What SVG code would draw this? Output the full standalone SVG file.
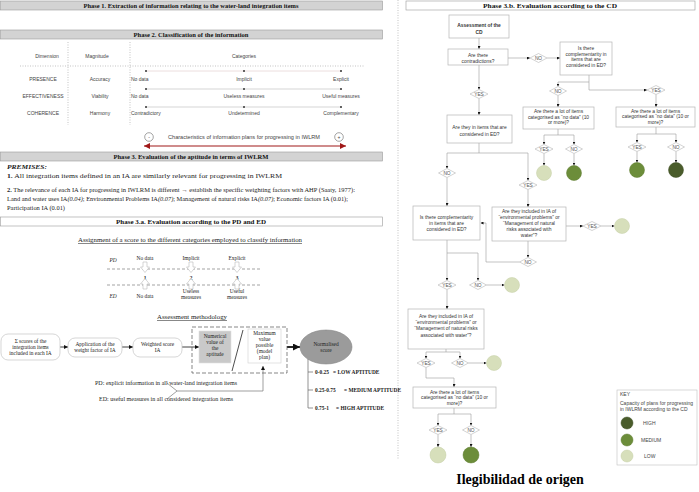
<svg xmlns="http://www.w3.org/2000/svg" width="699" height="492" viewBox="0 0 699 492">
<style>
.bar{fill:#d3d3d3;stroke:#9a9a9a;stroke-width:0.6}
.barw{fill:#fff;stroke:#9a9a9a;stroke-width:0.6}
.bt{font-family:"Liberation Serif",serif;font-weight:bold;font-size:6.5px;text-anchor:middle;fill:#111}
.sr{font-family:"Liberation Serif",serif;font-size:6.2px;fill:#222}
.sm{font-family:"Liberation Serif",serif;font-size:5.4px;fill:#222;text-anchor:middle}
.ss{font-family:"Liberation Sans",sans-serif;font-size:5px;fill:#444}
.ssm{font-family:"Liberation Sans",sans-serif;font-size:5px;fill:#444;text-anchor:middle}
.dot{stroke:#aaa;stroke-width:0.7;stroke-dasharray:1 1.5;fill:none}
.rl{stroke:#d6d6d6;stroke-width:1.2}
.fn{fill:#fff;stroke:#b5b5b5;stroke-width:0.7}
.ft{font-family:"Liberation Sans",sans-serif;font-size:4.9px;fill:#333;text-anchor:middle}
.dm{fill:#fff;stroke:#b5b5b5;stroke-width:0.6}
.dt{font-family:"Liberation Sans",sans-serif;font-size:4.8px;fill:#555;text-anchor:middle}
.c{stroke:#9a9a9a;stroke-width:0.6;fill:none}
.lo{fill:#d7dfbb;stroke:#c5cfa5;stroke-width:0.5}
.me{fill:#6c8d3a;stroke:#5e7d31;stroke-width:0.5}
.hi{fill:#4a5c2b;stroke:#3f4f24;stroke-width:0.5}
.bx{fill:#fff;stroke:#c4c4c4;stroke-width:0.7}
.blk{fill:#fff;stroke:#bbb;stroke-width:0.6}
.bb{font-family:"Liberation Serif",serif;font-weight:bold;font-size:5.4px;fill:#222}
</style>
<defs>
<marker id="ah" viewBox="0 0 6 6" markerUnits="userSpaceOnUse" markerWidth="3" markerHeight="3" refX="6" refY="3" orient="auto"><path d="M0,0L6,3L0,6z" fill="#111"/></marker>
<marker id="ahL" viewBox="0 0 6 6" markerUnits="userSpaceOnUse" markerWidth="4" markerHeight="4" refX="6" refY="3" orient="auto"><path d="M0,0L6,3L0,6z" fill="#111"/></marker>
<marker id="ahB" viewBox="0 0 6 6" markerUnits="userSpaceOnUse" markerWidth="7" markerHeight="7" refX="6" refY="3" orient="auto"><path d="M0,0L6,3L0,6z" fill="#111"/></marker>
<marker id="ahR" viewBox="0 0 6 6" markerUnits="userSpaceOnUse" markerWidth="7" markerHeight="6" refX="6" refY="3" orient="auto-start-reverse"><path d="M0,0L6,3L0,6z" fill="#a01818"/></marker>
</defs>
<rect width="699" height="492" fill="#fff"/>

<line x1="398" y1="0" x2="398" y2="460" class="dot"/>

<g id="phase1"><rect x="0.5" y="1" width="382" height="9" class="bar"/><text x="191" y="8" class="bt" textLength="215" lengthAdjust="spacingAndGlyphs">Phase 1. Extraction of information relating to the water-land integration items</text></g>
<g id="phase2"><rect x="0.5" y="30" width="382" height="9" class="bar"/><text x="191" y="37" class="bt" textLength="115" lengthAdjust="spacingAndGlyphs">Phase 2. Classification of the information</text></g>

<g id="table">
<line x1="68" y1="42" x2="68" y2="125" class="dot"/>
<line x1="130" y1="42" x2="130" y2="125" class="dot"/>
<line x1="20" y1="66" x2="365" y2="66" class="dot"/>
<text x="47" y="58" class="ssm">Dimension</text>
<text x="97" y="58" class="ssm">Magnitude</text>
<text x="244" y="58" class="ssm">Categories</text>
<text x="43" y="81" class="ssm">PRESENCE</text>
<text x="100" y="81" class="ssm">Accuracy</text>
<text x="43" y="98" class="ssm">EFFECTIVENESS</text>
<text x="100" y="98" class="ssm">Viability</text>
<text x="43" y="115" class="ssm">COHERENCE</text>
<text x="100" y="115" class="ssm">Harmony</text>
<line x1="146" y1="71" x2="341" y2="71" stroke="#ecdede" stroke-width="1"/>
<line x1="146" y1="89" x2="341" y2="89" class="rl"/>
<line x1="146" y1="107" x2="341" y2="107" class="rl"/>
<g fill="#333"><circle cx="146" cy="71" r="1"/><circle cx="244" cy="71" r="1"/><circle cx="341" cy="71" r="1"/>
<circle cx="146" cy="89" r="1"/><circle cx="244" cy="89" r="1"/><circle cx="341" cy="89" r="1"/>
<circle cx="146" cy="107" r="1"/><circle cx="244" cy="107" r="1"/><circle cx="341" cy="107" r="1"/></g>
<text x="131" y="81" class="ss">No data</text><text x="244" y="81" class="ssm">Implicit</text><text x="341" y="81" class="ssm">Explicit</text>
<text x="131" y="98" class="ss">No data</text><text x="244" y="98" class="ssm">Useless measures</text><text x="341" y="98" class="ssm">Useful measures</text>
<text x="131" y="115" class="ss">Contradictory</text><text x="244" y="115" class="ssm">Undetermined</text><text x="341" y="115" class="ssm">Complementary</text>
<circle cx="149" cy="137" r="4.3" fill="#fff" stroke="#666" stroke-width="0.6"/><text x="149" y="139" class="ssm" font-size="6">-</text>
<circle cx="339" cy="137" r="4.3" fill="#fff" stroke="#666" stroke-width="0.6"/><text x="339" y="139.2" class="ssm" font-size="6" fill="#111">+</text>
<text x="244" y="139" class="ssm" textLength="152" lengthAdjust="spacingAndGlyphs">Characteristics of information plans for progressing in IWLRM</text>
<line x1="144" y1="146" x2="346" y2="146" stroke="#a01818" stroke-width="1.1" marker-start="url(#ahR)" marker-end="url(#ahR)"/>
</g>

<g id="phase3"><rect x="0.5" y="152" width="382" height="9" class="bar"/><text x="191" y="159" class="bt" textLength="155" lengthAdjust="spacingAndGlyphs">Phase 3. Evaluation of the aptitude in terms of IWLRM</text></g>

<g id="premises">
<text x="7" y="169" class="sr" font-style="italic" font-weight="bold" textLength="40" lengthAdjust="spacingAndGlyphs">PREMISES:</text>
<text x="7" y="178" class="sr" textLength="275" lengthAdjust="spacingAndGlyphs"><tspan font-weight="bold">1.</tspan> All integration items defined in an IA are similarly relevant for progressing in IWLRM</text>
<text x="7" y="192" class="sr" textLength="348" lengthAdjust="spacingAndGlyphs"><tspan font-weight="bold">2.</tspan> The relevance of each IA for progressing in IWLRM is different <tspan font-weight="bold">→</tspan> establish the specific weighting factors with AHP (Saaty, 1977):</text>
<text x="7" y="201" class="sr" textLength="341" lengthAdjust="spacingAndGlyphs">Land and water uses IA<tspan font-style="italic">(0.04)</tspan>; Environmental Problems IA<tspan font-style="italic">(0.07)</tspan>; Management of natural risks IA<tspan font-style="italic">(0.07)</tspan>; Economic factors IA (0.01);</text>
<text x="7" y="210" class="sr" textLength="58" lengthAdjust="spacingAndGlyphs">Participation IA (0.01)</text>
</g>

<g id="phase3a"><rect x="0.5" y="217" width="382" height="9" class="barw"/><text x="191" y="224" class="bt" textLength="150" lengthAdjust="spacingAndGlyphs">Phase 3.a. Evaluation according to the PD and ED</text></g>

<g id="assignment">
<text x="190" y="242" class="sm" font-size="6" text-decoration="underline" textLength="224" lengthAdjust="spacingAndGlyphs">Assignment of a score to the different categories employed to classify information</text>
<text x="113" y="262" class="sm" font-style="italic">PD</text>
<text x="113" y="298" class="sm" font-style="italic">ED</text>
<line x1="107" y1="269" x2="262" y2="269" stroke="#666" stroke-width="0.6" stroke-dasharray="3 2"/>
<line x1="107" y1="285" x2="262" y2="285" stroke="#666" stroke-width="0.6" stroke-dasharray="3 2"/>
<text x="145" y="260" class="sm">No data</text><text x="191" y="260" class="sm">Implicit</text><text x="237" y="260" class="sm">Explicit</text>
<path class="blk" d="M143,262h4v5h2.5l-4.5,5.5l-4.5,-5.5h2.5z"/>
<path class="blk" d="M189,262h4v5h2.5l-4.5,5.5l-4.5,-5.5h2.5z"/>
<path class="blk" d="M235,262h4v5h2.5l-4.5,5.5l-4.5,-5.5h2.5z"/>
<text x="145" y="279.5" class="sm" font-weight="bold">1</text><text x="191" y="279.5" class="sm" font-weight="bold">2</text><text x="237" y="279.5" class="sm" font-weight="bold">3</text>
<path class="blk" d="M143,289h4v-5h2.5l-4.5,-5.5l-4.5,5.5h2.5z"/>
<path class="blk" d="M189,289h4v-5h2.5l-4.5,-5.5l-4.5,5.5h2.5z"/>
<path class="blk" d="M235,289h4v-5h2.5l-4.5,-5.5l-4.5,5.5h2.5z"/>
<text x="145" y="298" class="sm">No data</text>
<text x="191" y="293" class="sm">Useless</text><text x="191" y="299" class="sm">measures</text>
<text x="237" y="293" class="sm">Useful</text><text x="237" y="299" class="sm">measures</text>
</g>

<text x="192" y="319" class="sm" font-size="6" text-decoration="underline" textLength="70" lengthAdjust="spacingAndGlyphs">Assessment methodology</text>

<g id="m-connectors">
<path d="M60,347H68" stroke="#111" stroke-width="0.8" marker-end="url(#ahL)"/>
<path d="M122,347H133" stroke="#111" stroke-width="0.8" marker-end="url(#ahL)"/>
<path d="M182,347H199" stroke="#111" stroke-width="0.8" marker-end="url(#ahL)"/>
<path d="M287,347H300" stroke="#111" stroke-width="1.8" marker-end="url(#ahB)"/>
<path d="M167,383L177,391L167,399M177,391H263V366" stroke="#777" stroke-width="0.7" fill="none" marker-end="url(#ahL)"/>
<path d="M308,359V408M308,372H313M308,390H313M308,408H313" stroke="#666" stroke-width="0.7" fill="none"/>
</g>

<g id="boxA"><rect x="1" y="334" width="59" height="26" rx="7" class="bx"/>
<text x="30.5" y="342.5" class="sm">Σ scores of the</text><text x="30.5" y="348.5" class="sm">integration items</text><text x="30.5" y="354.5" class="sm">included in each IA</text></g>
<g id="boxB"><rect x="68" y="338" width="54" height="19" rx="7" class="bx"/>
<text x="95" y="346" class="sm">Application of the</text><text x="95" y="352" class="sm">weight factor of IA</text></g>
<g id="boxC"><rect x="133" y="338" width="49" height="19" rx="7" class="bx"/>
<text x="157.5" y="346" class="sm">Weighted score</text><text x="157.5" y="352" class="sm">IA</text></g>
<g id="ratio">
<rect x="192" y="327" width="95" height="46" fill="none" stroke="#555" stroke-width="0.7" stroke-dasharray="4 2"/>
<rect x="199" y="331" width="32" height="32" fill="#c9c9c9" stroke="#e0e0e0" stroke-width="0.6"/>
<text x="215" y="337.5" class="sm">Numerical</text><text x="215" y="343.5" class="sm">value of</text><text x="215" y="349.5" class="sm">the</text><text x="215" y="355.5" class="sm">aptitude</text>
<line x1="243" y1="330" x2="232" y2="371" stroke="#222" stroke-width="0.8"/>
<rect x="248" y="329" width="33" height="34" fill="#fff" stroke="#cfcfcf" stroke-width="0.6"/>
<text x="264.5" y="335" class="sm">Maximum</text><text x="264.5" y="341" class="sm">value</text><text x="264.5" y="347" class="sm">possible</text><text x="264.5" y="353" class="sm">(model</text><text x="264.5" y="359" class="sm">plan)</text>
</g>
<g id="normalised"><ellipse cx="326" cy="347" rx="26" ry="17" fill="#9b9b9b" stroke="#888" stroke-width="0.6"/>
<text x="326" y="345.5" class="sm">Normalised</text><text x="326" y="352" class="sm">score</text></g>
<g id="ranges">
<text x="315" y="374" class="bb">0-0.25</text><text x="333" y="374" class="bb">= LOW APTITUDE</text>
<text x="315" y="392" class="bb">0.25-0.75</text><text x="344" y="392" class="bb">= MEDIUM APTITUDE</text>
<text x="315" y="410" class="bb">0.75-1</text><text x="336" y="410" class="bb">= HIGH APTITUDE</text>
</g>
<g id="notes">
<text x="166" y="385" class="sm" text-anchor="end" textLength="142" lengthAdjust="spacingAndGlyphs">PD: explicit information in all water-land integration items</text>
<text x="166" y="401" class="sm" text-anchor="end" textLength="134" lengthAdjust="spacingAndGlyphs">ED: useful measures in all considered integration items</text>
</g>

<g id="phase3b"><rect x="406" y="1" width="289" height="9" class="barw"/><text x="550" y="8" class="bt" textLength="134" lengthAdjust="spacingAndGlyphs">Phase 3.b. Evaluation according to the CD</text></g>

<g id="connectors">
<path class="c" d="M479,38V49" marker-end="url(#ah)"/>
<path class="c" d="M508,58H530" marker-end="url(#ah)"/>
<path class="c" d="M547,58H560" marker-end="url(#ah)"/>
<path class="c" d="M589,75V90H647" marker-end="url(#ah)"/>
<path class="c" d="M589,82H558V86.5" marker-end="url(#ah)"/>
<path class="c" d="M558,95.5V107" marker-end="url(#ah)"/>
<path class="c" d="M656,94.5V107" marker-end="url(#ah)"/>
<path class="c" d="M558,129V135M544,135H574"/>
<path class="c" d="M544,135V144.5" marker-end="url(#ah)"/>
<path class="c" d="M574,135V144.5" marker-end="url(#ah)"/>
<path class="c" d="M544,153.5V165.5" marker-end="url(#ah)"/>
<path class="c" d="M574,153.5V165.5" marker-end="url(#ah)"/>
<path class="c" d="M656,127V134M637,134H676"/>
<path class="c" d="M637,134V142.5" marker-end="url(#ah)"/>
<path class="c" d="M676,134V142.5" marker-end="url(#ah)"/>
<path class="c" d="M637,151.5V162.5" marker-end="url(#ah)"/>
<path class="c" d="M676,151.5V162.5" marker-end="url(#ah)"/>
<path class="c" d="M479,65V89.5" marker-end="url(#ah)"/>
<path class="c" d="M479,98.5V115" marker-end="url(#ah)"/>
<path class="c" d="M479,143V153M447,153H528"/>
<path class="c" d="M447,153V168.5" marker-end="url(#ah)"/>
<path class="c" d="M528,153V180.5" marker-end="url(#ah)"/>
<path class="c" d="M447,177.5V206" marker-end="url(#ah)"/>
<path class="c" d="M528,189.5V207" marker-end="url(#ah)"/>
<path class="c" d="M566,226H583" marker-end="url(#ah)"/>
<path class="c" d="M601,226H614.5" marker-end="url(#ah)"/>
<path class="c" d="M528,241V257.5" marker-end="url(#ah)"/>
<path class="c" d="M519.5,262H486V223H480.5" marker-end="url(#ah)"/>
<path class="c" d="M447,240V280.5" marker-end="url(#ah)"/>
<path class="c" d="M447,253H478V280.5" marker-end="url(#ah)"/>
<path class="c" d="M486.5,285H504.5" marker-end="url(#ah)"/>
<path class="c" d="M447,289.5V309" marker-end="url(#ah)"/>
<path class="c" d="M446,349V352M426,352H460"/>
<path class="c" d="M426,352V358.5" marker-end="url(#ah)"/>
<path class="c" d="M460,352V358.5" marker-end="url(#ah)"/>
<path class="c" d="M468.5,363H486.5" marker-end="url(#ah)"/>
<path class="c" d="M426,367.5V378H454V387" marker-end="url(#ah)"/>
<path class="c" d="M454,408V414M438,414H471"/>
<path class="c" d="M438,414V425.5" marker-end="url(#ah)"/>
<path class="c" d="M471,414V425.5" marker-end="url(#ah)"/>
<path class="c" d="M438,434.5V447" marker-end="url(#ah)"/>
<path class="c" d="M471,434.5V447" marker-end="url(#ah)"/>
</g>

<g id="n1"><rect x="449" y="15" width="60" height="23" class="fn"/><text x="479" y="27" class="ft" font-weight="bold" font-size="5.3">Assessment of the</text><text x="479" y="33.5" class="ft" font-weight="bold" font-size="5.3">CD</text></g>
<g id="n2"><rect x="448" y="49" width="60" height="16" class="fn"/><text x="478" y="56.5" class="ft">Are there</text><text x="478" y="62.5" class="ft">contradictions?</text></g>
<g id="d-no1"><path class="dm" d="M530,58L538.5,53.5L547,58L538.5,62.5z"/><text x="538.5" y="59.7" class="dt">NO</text></g>
<g id="n3"><rect x="560" y="42" width="52" height="33" class="fn"/><text x="586" y="50" class="ft">Is there</text><text x="586" y="55.5" class="ft">complementarity in</text><text x="586" y="61" class="ft">items that are</text><text x="586" y="66.5" class="ft">considered in ED?</text></g>
<g id="d-no2"><path class="dm" d="M549.5,91L558,86.5L566.5,91L558,95.5z"/><text x="558" y="92.7" class="dt">NO</text></g>
<g id="d-yes1"><path class="dm" d="M647,90L656,85.5L665,90L656,94.5z"/><text x="656" y="91.7" class="dt">YES</text></g>
<g id="n4"><rect x="523" y="107" width="71" height="22" class="fn"/><text x="558.5" y="113" class="ft">Are there a lot of items</text><text x="558.5" y="118.5" class="ft">categorised as “no data” (10</text><text x="558.5" y="124" class="ft">or more)?</text></g>
<g id="n5"><rect x="616" y="107" width="79" height="20" class="fn"/><text x="655.5" y="112.5" class="ft">Are there a lot of items</text><text x="655.5" y="118" class="ft">categorised as “no data” (10 or</text><text x="655.5" y="123.5" class="ft">more)?</text></g>
<g id="d-yes3"><path class="dm" d="M535,149L544,144.5L553,149L544,153.5z"/><text x="544" y="150.7" class="dt">YES</text></g>
<g id="d-no3"><path class="dm" d="M565.5,149L574,144.5L582.5,149L574,153.5z"/><text x="574" y="150.7" class="dt">NO</text></g>
<g id="d-yes4"><path class="dm" d="M628,147L637,142.5L646,147L637,151.5z"/><text x="637" y="148.7" class="dt">YES</text></g>
<g id="d-no4"><path class="dm" d="M667.5,147L676,142.5L684.5,147L676,151.5z"/><text x="676" y="148.7" class="dt">NO</text></g>
<g id="r1"><circle cx="544" cy="173" r="7.5" class="lo"/></g>
<g id="r2"><circle cx="574" cy="173" r="7.5" class="me"/></g>
<g id="r3"><circle cx="637" cy="170" r="7.5" class="me"/></g>
<g id="r4"><circle cx="676" cy="170" r="7.5" class="hi"/></g>
<g id="d-yes2"><path class="dm" d="M470,94L479,89.5L488,94L479,98.5z"/><text x="479" y="95.7" class="dt">YES</text></g>
<g id="n6"><rect x="447" y="115" width="65" height="28" class="fn"/><text x="479.5" y="128.5" class="ft">Are they in items that are</text><text x="479.5" y="136" class="ft">considered in ED?</text></g>
<g id="d-no5"><path class="dm" d="M438.5,173L447,168.5L455.5,173L447,177.5z"/><text x="447" y="174.7" class="dt">NO</text></g>
<g id="d-yes5"><path class="dm" d="M519,185L528,180.5L537,185L528,189.5z"/><text x="528" y="186.7" class="dt">YES</text></g>
<g id="n7"><rect x="413" y="206" width="67" height="34" class="fn"/><text x="446.5" y="218.5" class="ft">Is there complementarity</text><text x="446.5" y="224.5" class="ft">in items that are</text><text x="446.5" y="230.5" class="ft">considered in ED?</text></g>
<g id="n8"><rect x="492" y="207" width="74" height="34" class="fn"/><text x="529" y="212.5" class="ft">Are they included in IA of</text><text x="529" y="218.7" class="ft">“environmental problems” or</text><text x="529" y="225" class="ft">“Management of natural</text><text x="529" y="231" class="ft">risks associated with</text><text x="529" y="237" class="ft">water”?</text></g>
<g id="d-yes6"><path class="dm" d="M583,226L592,221.5L601,226L592,230.5z"/><text x="592" y="227.7" class="dt">YES</text></g>
<g id="r5"><circle cx="622" cy="226" r="7.5" class="lo"/></g>
<g id="d-no6"><path class="dm" d="M519.5,262L528,257.5L536.5,262L528,266.5z"/><text x="528" y="263.7" class="dt">NO</text></g>
<g id="d-yes7"><path class="dm" d="M438,285L447,280.5L456,285L447,289.5z"/><text x="447" y="286.7" class="dt">YES</text></g>
<g id="d-no7"><path class="dm" d="M469.5,285L478,280.5L486.5,285L478,289.5z"/><text x="478" y="286.7" class="dt">NO</text></g>
<g id="r6"><circle cx="512" cy="285" r="7.5" class="lo"/></g>
<g id="n9"><rect x="408" y="309" width="76" height="40" class="fn"/><text x="446" y="317.5" class="ft">Are they included in IA of</text><text x="446" y="323.5" class="ft">“environmental problems” or</text><text x="446" y="330" class="ft">“Management of natural risks</text><text x="446" y="336.5" class="ft">associated with water”?</text></g>
<g id="d-yes8"><path class="dm" d="M417,363L426,358.5L435,363L426,367.5z"/><text x="426" y="364.7" class="dt">YES</text></g>
<g id="d-no8"><path class="dm" d="M451.5,363L460,358.5L468.5,363L460,367.5z"/><text x="460" y="364.7" class="dt">NO</text></g>
<g id="r7"><circle cx="494" cy="363" r="7.5" class="lo"/></g>
<g id="n10"><rect x="413" y="387" width="83" height="21" class="fn"/><text x="454.5" y="393.5" class="ft">Are there a lot of items</text><text x="454.5" y="399" class="ft">categorised as “no data” (10 or</text><text x="454.5" y="404.5" class="ft">more)?</text></g>
<g id="d-yes9"><path class="dm" d="M429,430L438,425.5L447,430L438,434.5z"/><text x="438" y="431.7" class="dt">YES</text></g>
<g id="d-no9"><path class="dm" d="M462.5,430L471,425.5L479.5,430L471,434.5z"/><text x="471" y="431.7" class="dt">NO</text></g>
<g id="r8"><circle cx="438" cy="455" r="8" class="lo"/></g>
<g id="r9"><circle cx="471" cy="455" r="8" class="me"/></g>

<g id="key">
<rect x="617" y="390" width="80" height="75" fill="#fff" stroke="#c0c0c0" stroke-width="0.6"/>
<text x="620" y="396" class="ss" font-size="4.3">KEY</text>
<text x="620" y="404.5" class="ss" font-size="4.4">Capacity of plans for progressing</text>
<text x="620" y="410.5" class="ss" font-size="4.4">in IWLRM according to the CD</text>
<circle cx="627" cy="423" r="6" class="hi"/><text x="643" y="424.5" class="ss" font-size="4.4">HIGH</text>
<circle cx="627" cy="440" r="6" class="me"/><text x="641" y="441.5" class="ss" font-size="4.4">MEDIUM</text>
<circle cx="627" cy="456" r="6" class="lo"/><text x="644" y="457.5" class="ss" font-size="4.4">LOW</text>
</g>

<text x="520" y="484" font-family="Liberation Serif, serif" font-weight="bold" font-size="14" text-anchor="middle" fill="#000">Ilegibilidad de origen</text>
</svg>
